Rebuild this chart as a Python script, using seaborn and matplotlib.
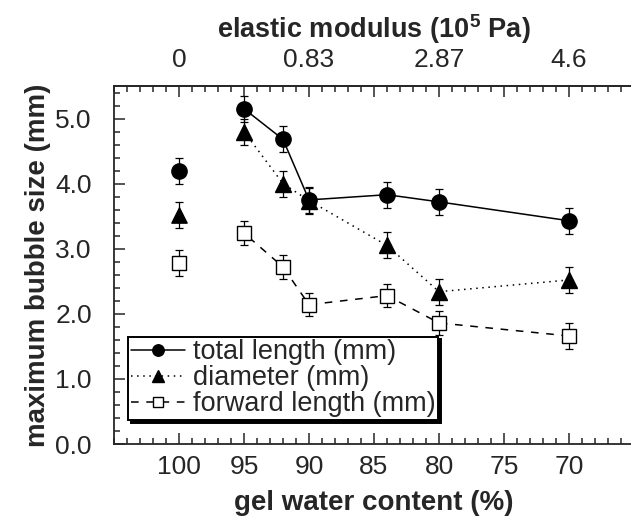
import numpy as np
import pandas as pd
import matplotlib
matplotlib.use('Agg')
import matplotlib.pyplot as plt
import seaborn as sns
from matplotlib.ticker import MultipleLocator, FormatStrFormatter

# gel water content (%) of the connected series
water = [95, 92, 90, 84, 80, 70]
total_len = [5.15, 4.68, 3.75, 3.83, 3.72, 3.43]
total_err = [0.2, 0.2, 0.2, 0.2, 0.2, 0.2]
diameter = [4.80, 4.00, 3.74, 3.05, 2.34, 2.52]
diameter_err = [0.2, 0.2, 0.2, 0.2, 0.2, 0.2]
forward_len = [3.24, 2.72, 2.14, 2.28, 1.86, 1.66]
forward_err = [0.18, 0.18, 0.18, 0.18, 0.18, 0.2]

# pure water point (not connected)
water_pure = [100]
total_pure = [4.2]
diameter_pure = [3.52]
forward_pure = [2.78]
pure_err = [0.2]

# top axis: elastic modulus (10^5 Pa)
modulus_pos = [100, 90, 80, 70]
modulus_labels = ['0', '0.83', '2.87', '4.6']

sns.set_style('ticks')
plt.rcParams['font.family'] = ['Liberation Sans', 'DejaVu Sans']
plt.rcParams['mathtext.fontset'] = 'custom'
plt.rcParams['mathtext.rm'] = 'Liberation Sans'
plt.rcParams['mathtext.bf'] = 'Liberation Sans:bold'

fig = plt.figure(figsize=(6.31, 5.18), dpi=100)
ax = fig.add_axes([114 / 631, 1 - 444 / 518, 520 / 631, 358 / 518])

series = [
    ('total length (mm)', total_len, total_err, total_pure, 'o', '-', 'black', 11),
    ('diameter (mm)', diameter, diameter_err, diameter_pure, '^', (0, (1, 3)), 'black', 11),
    ('forward length (mm)', forward_len, forward_err, forward_pure, 's', (0, (5, 5)), 'white', 10),
]

for label, vals, errs, pure, mk, ls, fc, ms in series:
    ax.errorbar(water + water_pure, vals + pure, yerr=errs + pure_err, fmt='none',
                ecolor='black', elinewidth=0.9, capsize=3, capthick=0.9, zorder=2)
    sns.lineplot(x=water, y=vals, ax=ax, color='black', marker=mk, markersize=ms,
                 markerfacecolor=fc, markeredgecolor='black', markeredgewidth=1.0,
                 linestyle=ls, linewidth=1.1, label=label, zorder=3)
    sns.scatterplot(x=water_pure, y=pure, ax=ax, marker=mk, s=ms ** 2,
                    facecolor=fc, edgecolor='black', linewidth=1.0, zorder=3)

ax.set_xlim(105, 65)
ax.set_ylim(0, 5.5)
ax.xaxis.set_major_locator(plt.FixedLocator([100, 95, 90, 85, 80, 75, 70]))
ax.xaxis.set_minor_locator(MultipleLocator(1))
ax.yaxis.set_major_locator(MultipleLocator(1))
ax.yaxis.set_minor_locator(MultipleLocator(0.2))
ax.yaxis.set_major_formatter(FormatStrFormatter('%.1f'))
ax.tick_params(which='both', direction='in', width=1.1, labelsize=19, right=False)
ax.tick_params(which='major', length=8)
ax.tick_params(which='minor', length=4)
ax.tick_params(axis='x', pad=8)
ax.tick_params(axis='y', pad=16)
for s in ['left', 'bottom', 'top']:
    ax.spines[s].set_linewidth(1.3)
ax.spines['right'].set_visible(False)

ax.set_xlabel('gel water content (%)', fontsize=20, fontweight='bold', labelpad=8)
ax.set_ylabel('maximum bubble size (mm)', fontsize=20, fontweight='bold', labelpad=3)

top_ticks = [100, 95, 90, 85, 80, 75, 70]
top_labels = [modulus_labels[modulus_pos.index(t)] if t in modulus_pos else '' for t in top_ticks]
secax = ax.secondary_xaxis('top')
secax.set_xticks(top_ticks, labels=top_labels)
secax.xaxis.set_minor_locator(MultipleLocator(1))
secax.tick_params(which='both', direction='in', width=1.1, labelsize=19, pad=10)
secax.tick_params(which='major', length=8)
secax.tick_params(which='minor', length=4)
secax.spines['top'].set_linewidth(1.3)
secax.set_xlabel(r'elastic modulus (10$^{\mathbf{5}}$ Pa)', fontsize=19.5, fontweight='bold', labelpad=7)

leg = ax.legend(loc='lower left', bbox_to_anchor=(0.027, 0.067), frameon=True, fancybox=False,
                edgecolor='black', shadow={'color': 'black', 'alpha': 1}, fontsize=19.5,
                handlelength=2.0, handletextpad=0.3, labelspacing=0.0, borderpad=0.1,
                borderaxespad=0, markerscale=0.75, framealpha=1)
leg.get_frame().set_linewidth(1.4)

fig.savefig('out.png', dpi=100)
